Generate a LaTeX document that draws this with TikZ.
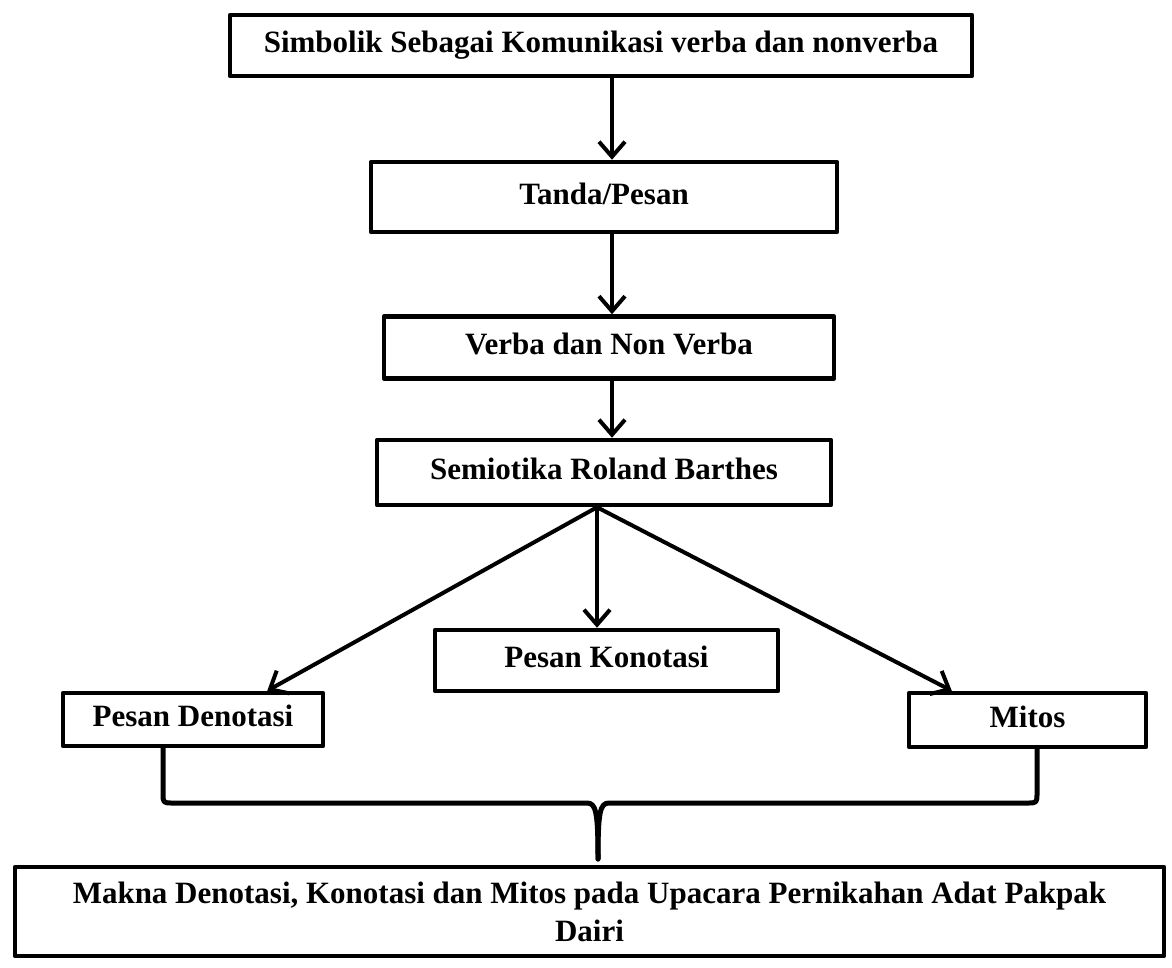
\documentclass[tikz,border=0pt]{standalone}
\usepackage{fontspec}
\setmainfont{Liberation Serif}
\usetikzlibrary{arrows.meta}
\tikzset{
	kotak/.style={draw, line width=4.5pt, line join=round, inner sep=0pt,
		font=\bfseries\fontsize{31}{38}\selectfont, text height=21pt, text depth=7pt},
	kotakbesar/.style={draw, line width=4.5pt, line join=round, inner sep=0pt,
		font=\bfseries\fontsize{31}{38}\selectfont, align=center},
	panah/.style={line width=4pt, -{Straight Barb[length=15pt,width=26pt]}},
	kurung/.style={line width=5pt, line cap=round, line join=round}
}
\begin{document}
\begin{tikzpicture}[x=1pt, y=-1pt]
		\useasboundingbox (0,0) rectangle (1172,967);

		\node[kotak, minimum width=742, minimum height=61] (simbolik) at (601, 45.5) {Simbolik Sebagai Komunikasi verba dan nonverba};
		\node[kotak, minimum width=466, minimum height=70] (tanda) at (604, 197) {Tanda/Pesan};
		\node[kotak, minimum width=450, minimum height=62] (verba) at (609, 347.5) {Verba dan Non Verba};
		\node[kotak, minimum width=454, minimum height=65] (semiotika) at (604, 472.5) {Semiotika Roland Barthes};

		\node[kotak, minimum width=260, minimum height=53] (denotasi) at (193, 719.5) {Pesan Denotasi};
		\node[kotak, minimum width=343, minimum height=61] (konotasi) at (606.5, 660.5) {Pesan Konotasi};
		\node[kotak, minimum width=237, minimum height=54] (mitos) at (1027.5, 720) {Mitos};

		\node[kotakbesar, minimum width=1149, minimum height=89] (makna) at (589.5, 911.5) {Makna Denotasi, Konotasi dan Mitos pada Upacara Pernikahan Adat Pakpak\\Dairi};

		% sumbu panah tegak
		\coordinate (sumbu) at (612, 0);
		\coordinate (cabang) at (597, 0);

		\draw[panah] (simbolik.south -| sumbu) -- (tanda.north -| sumbu);
		\draw[panah] (tanda.south -| sumbu) -- (verba.north -| sumbu);
		\draw[panah] (verba.south -| sumbu) -- (semiotika.north -| sumbu);

		\draw[panah] (semiotika.south -| cabang) -- (konotasi.north -| cabang);
		\draw[panah] (semiotika.south -| cabang) -- ([xshift=-58pt]denotasi.north east);
		\draw[panah] (semiotika.south -| cabang) -- ([xshift=45pt]mitos.north west);

		% kurung kurawal
		\coordinate (kiri) at (163, 803);
		\coordinate (kanan) at (1037, 803);
		\coordinate (puncak) at (598, 859);

		\draw[kurung] (denotasi.south -| kiri) -- (163, 793) .. controls (163, 803) .. (173, 803) -- (587, 803) .. controls (596, 803) and (598, 812) .. (puncak);
		\draw[kurung] (mitos.south -| kanan) -- (1037, 793) .. controls (1037, 803) .. (1027, 803) -- (609, 803) .. controls (600, 803) and (598, 812) .. (puncak);
	\end{tikzpicture}
\end{document}
